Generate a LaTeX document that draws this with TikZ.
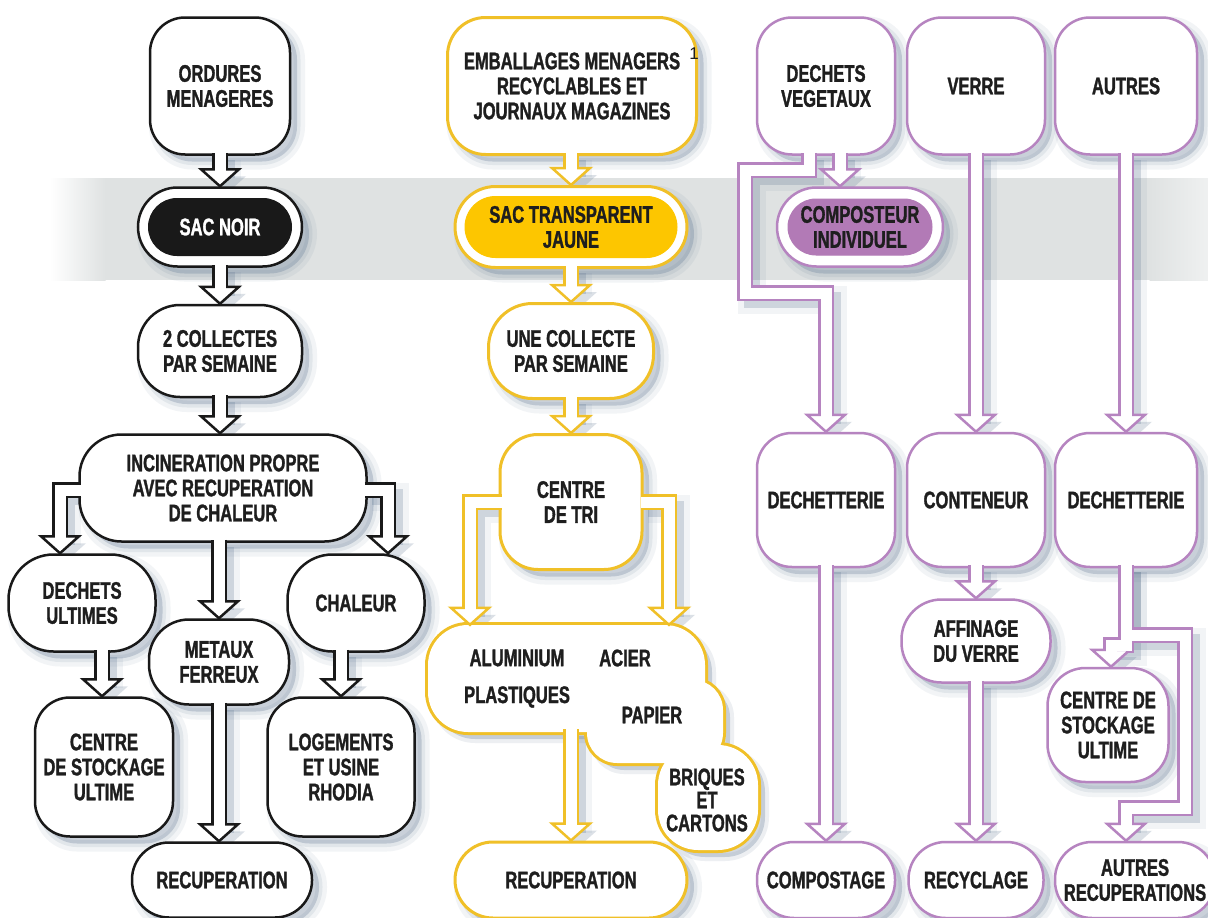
\documentclass[tikz,border=0pt]{standalone}
\usepackage{fontspec}
\newfontfamily\cond{Liberation Sans Bold}[FakeStretch=0.69,FakeBold=1.3]
\newfontfamily\plainf{Liberation Sans}
\usetikzlibrary{calc,shapes.misc,shadows}
\definecolor{bk}{RGB}{25,25,25}
\definecolor{yl}{RGB}{240,192,40}
\definecolor{ylf}{RGB}{253,198,0}
\definecolor{pu}{RGB}{182,132,192}
\definecolor{puf}{RGB}{178,122,182}
\definecolor{bandc}{RGB}{223,226,226}
\definecolor{shc}{RGB}{95,118,145}
\definecolor{tx}{RGB}{30,30,30}
\pgfdeclarelayer{bandlayer}
\pgfdeclarelayer{shadowlayer}
\pgfsetlayers{bandlayer,shadowlayer,main}
\tikzset{
  txt/.style={font=\cond\fontsize{24}{25}\selectfont, text=tx, align=center, inner sep=0pt},
  shd/.style={general shadow={shadow xshift=7pt,shadow yshift=-7pt,draw=shc,draw opacity=.08,line width=16pt},
              general shadow={shadow xshift=7pt,shadow yshift=-7pt,draw=shc,draw opacity=.11,line width=7pt,fill=shc,fill opacity=.28}},
  rbox/.style 2 args={txt, rectangle, draw=#1, line width=2.5pt, fill=white, rounded corners=#2pt, shd},
  wh/.style 2 args={minimum width=#1pt, minimum height=#2pt},
  capsout/.style={rounded rectangle, draw=#1, line width=2.5pt, fill=white, shd, inner sep=0pt},
  capsin/.style={rounded rectangle, txt, fill=#1, draw=#1, line width=1pt},
}
\newcommand\ArrS[3]{\path #3 coordinate (tip);
  \draw[line width=16pt,shc,draw opacity=.24,line join=miter] #2 ($(tip)+(0,-15)$);
  \draw[line width=28pt,shc,draw opacity=.08,line join=miter] #2 ($(tip)+(0,-15)$);
  \fill[shc,fill opacity=.22] ($(tip)+(-19,-17)$) -- (tip) -- ($(tip)+(19,-17)$) -- cycle;}
\newcommand\ArrB[3]{\path #3 coordinate (tip);
  \draw[line width=16pt,#1,line join=miter] #2 ($(tip)+(0,-15)$);}
\newcommand\ArrH[3]{\path #3 coordinate (tip);
  \filldraw[fill=white,draw=#1,line width=2.5pt,line join=miter] ($(tip)+(-19,-17)$) -- (tip) -- ($(tip)+(19,-17)$) -- cycle;}
\newcommand\ArrW[3]{\path #3 coordinate (tip);
  \draw[line width=11pt,white,line join=miter] #2 ($(tip)+(0,-14)$);}
\newcommand\arrowlist[1]{%
 #1{bk}{($(om.south)+(0,-3)$) --}{(sn.north)}%
 #1{bk}{($(sn.south)+(0,-3)$) --}{(c2.north)}%
 #1{bk}{($(c2.south)+(0,-3)$) --}{(inc.north -| c2.south)}%
 #1{bk}{($(inc.west)+(3,2)$) -|}{(du.north -| 60,0)}%
 #1{bk}{($(inc.east)+(-3,2)$) -|}{(ch.north -| 388,0)}%
 #1{bk}{($(inc.south -| mf.north)+(0,-3)$) --}{(mf.north)}%
 #1{bk}{($(du.south -| 102,0)+(0,-3)$) --}{(csl.north -| 102,0)}%
 #1{bk}{($(ch.south -| log.north)+(0,-3)$) --}{(log.north)}%
 #1{bk}{($(mf.south)+(0,-3)$) --}{(rec1.north -| mf.south)}%
 #1{yl}{($(emb.south -| sj.north)+(0,-3)$) --}{(sj.north)}%
 #1{yl}{($(sj.south)+(0,-3)$) --}{(uc.north)}%
 #1{yl}{($(uc.south)+(0,-3)$) --}{(ct.north)}%
 #1{yl}{($(ct.west)+(3,0)$) -|}{(cl.north -| 470,0)}%
 #1{yl}{($(ct.east)+(-3,0)$) -|}{(cl.north -| 669,0)}%
 #1{yl}{($(cl.south -| rec2.north)+(0,-3)$) --}{(rec2.north)}%
 #1{pu}{($(dv.south -| 840,0)+(0,-3)$) --}{(cp.north -| 840,0)}%
 #1{pu}{($(dv.south -| 809,0)+(0,-3)$) -- (809,170) -- (745,170) -- (745,293) -|}{(dech1.north)}%
 #1{pu}{($(dech1.south)+(0,-3)$) --}{(comp.north)}%
 #1{pu}{($(ve.south)+(0,-3)$) --}{(cont.north)}%
 #1{pu}{($(cont.south)+(0,-3)$) --}{(aff.north -| cont.south)}%
 #1{pu}{($(aff.south -| cont.south)+(0,-3)$) --}{(recy.north -| cont.south)}%
 #1{pu}{($(au.south)+(0,-3)$) --}{(dech2.north)}%
 #1{pu}{($(dech2.south)+(0,-3)$) -- (1126,645) -- (1111,645) --}{(csu.north -| 1111,0)}%
 #1{pu}{($(dech2.south)+(0,-3)$) -- (1126,635) -- (1185,635) -- (1185,808) -|}{(arec.north -| 1126,0)}%
}
\begin{document}
\begin{tikzpicture}[x=1pt,y=-1pt]
\useasboundingbox (0,0) rectangle (1208,918);
\begin{pgfonlayer}{bandlayer}
\fill[white] (0,0) rectangle (1208,918);
\fill[bandc] (105,178) rectangle (1150,280);
\shade[left color=white,right color=bandc] (50,178) rectangle (105.5,280);
\shade[left color=bandc,right color=white!50!bandc] (1149.5,178) rectangle (1208,280);
\end{pgfonlayer}

% black column
\node[rbox={bk}{35}, wh={140}{137}] (om) at (220,86) {ORDURES\\MENAGERES};
\node[capsout=bk, wh={164}{79}] (sn) at (220,227) {};
\node[capsin=bk, wh={143}{57}, text=white] (snin) at (220,227) {SAC NOIR};
\node[rbox={bk}{42}, wh={164}{92}] (c2) at (220,351) {2 COLLECTES\\PAR SEMAINE};
\node[rbox={bk}{42}, wh={287}{107}] (inc) at (223,488) {INCINERATION PROPRE\\AVEC RECUPERATION\\DE CHALEUR};
\node[rbox={bk}{45}, wh={147}{97}] (du) at (82,603) {DECHETS\\ULTIMES};
\node[rbox={bk}{45}, wh={137}{97}] (ch) at (356,603) {CHALEUR};
\node[rbox={bk}{40}, wh={140}{85}] (mf) at (219,662) {METAUX\\FERREUX};
\node[rbox={bk}{35}, wh={138}{139}] (csl) at (104,767) {CENTRE\\DE STOCKAGE\\ULTIME};
\node[rbox={bk}{35}, wh={147}{139}] (log) at (341,767) {LOGEMENTS\\ET USINE\\RHODIA};
\node[rbox={bk}{37}, wh={180}{75}] (rec1) at (222,880) {RECUPERATION};

% yellow column
\node[rbox={yl}{38}, wh={249}{137}, line width=3pt] (emb) at (572,86) {EMBALLAGES MENAGERS\\RECYCLABLES ET\\JOURNAUX MAGAZINES};
\node[capsout=yl, wh={232}{81}, line width=3pt] (sj) at (571,227) {};
\node[capsin=ylf, wh={212}{61}] (sjin) at (571,227) {SAC TRANSPARENT\\JAUNE};
\node[rbox={yl}{44}, wh={165}{95}, line width=3pt] (uc) at (571,351) {UNE COLLECTE\\PAR SEMAINE};
\node[rbox={yl}{38}, wh={142}{135}, line width=3pt] (ct) at (571,502) {CENTRE\\DE TRI};
\node[rbox={yl}{38}, wh={232}{76}, line width=3pt] (rec2) at (571,880) {RECUPERATION};
\node[inner sep=0pt, wh={277}{107}] (cl) at (566.5,678.5) {};
\draw[yl,line width=6pt,rounded corners=40pt] (428,625) rectangle (705,732);
\draw[yl,line width=6pt,rounded corners=30pt] (587,680) rectangle (723,763);
\draw[yl,line width=6pt,rounded corners=40pt] (658,745) rectangle (758,850);
\fill[white,rounded corners=40pt] (428,625) rectangle (705,732);
\fill[white,rounded corners=30pt] (587,680) rectangle (723,763);
\fill[white,rounded corners=40pt] (658,745) rectangle (758,850);
\node[txt] (alu) at (517,658) {ALUMINIUM};
\node[txt] (aci) at (625,658) {ACIER};
\node[txt] (pla) at (517,697) {PLASTIQUES};
\node[txt] (pap) at (652,715) {PAPIER};
\node[txt, font=\cond\fontsize{24}{23}\selectfont] (bri) at (707,800) {BRIQUES\\ET\\CARTONS};

% purple columns
\node[rbox={pu}{35}, wh={138}{137}] (dv) at (826,86) {DECHETS\\VEGETAUX};
\node[rbox={pu}{35}, wh={138}{137}] (ve) at (976,86) {VERRE};
\node[rbox={pu}{35}, wh={142}{137}] (au) at (1126,86) {AUTRES};
\node[capsout=pu, wh={166}{79}] (cp) at (860,227) {};
\node[capsin=puf, wh={144}{56}] (cpin) at (860,227) {COMPOSTEUR\\INDIVIDUEL};
\node[rbox={pu}{35}, wh={138}{134}] (dech1) at (826,500) {DECHETTERIE};
\node[rbox={pu}{35}, wh={138}{134}] (cont) at (976,500) {CONTENEUR};
\node[rbox={pu}{35}, wh={142}{134}] (dech2) at (1126,500) {DECHETTERIE};
\node[rbox={pu}{40}, wh={149}{83}] (aff) at (976,641) {AFFINAGE\\DU VERRE};
\node[rbox={pu}{38}, wh={121}{114}] (csu) at (1108,725) {CENTRE DE\\STOCKAGE\\ULTIME};
\node[rbox={pu}{37}, wh={138}{76}] (comp) at (826,880) {COMPOSTAGE};
\node[rbox={pu}{37}, wh={135}{76}] (recy) at (976,880) {RECYCLAGE};
\node[rbox={pu}{37}, wh={160}{76}] (arec) at (1135,880) {AUTRES\\RECUPERATIONS};

% shadows of arrows and cloud
\begin{pgfonlayer}{shadowlayer}
\begin{scope}[transform canvas={shift={(7pt,-7pt)}}]
\arrowlist\ArrS
\fill[shc,fill opacity=.28] [rounded corners=40pt] (428,625) rectangle (705,732) [rounded corners=30pt] (587,680) rectangle (723,763) [rounded corners=40pt] (658,745) rectangle (758,850);
\draw[shc,draw opacity=.11,line width=8pt] [rounded corners=40pt] (428,625) rectangle (705,732) [rounded corners=30pt] (587,680) rectangle (723,763) [rounded corners=40pt] (658,745) rectangle (758,850);
\end{scope}
\end{pgfonlayer}

% arrows
\arrowlist\ArrB
\arrowlist\ArrH
\arrowlist\ArrW

\node[font=\plainf\fontsize{17}{17}\selectfont, text=tx, inner sep=0pt] (fn) at (694,54) {1};
\end{tikzpicture}
\end{document}
